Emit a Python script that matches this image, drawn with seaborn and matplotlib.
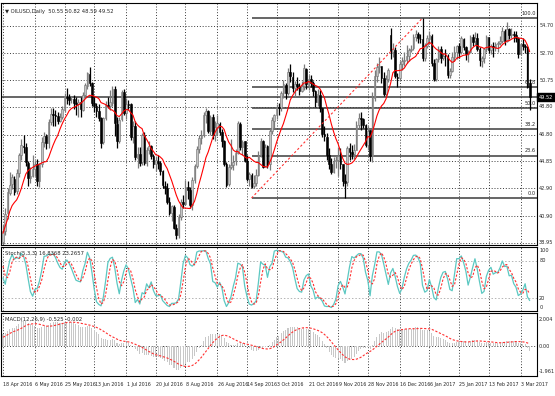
import matplotlib.pyplot as plt
import matplotlib.transforms as mtransforms
import numpy as np
import pandas as pd
import seaborn as sns


# Warm-up bars (1 Mar - 15 Apr 2016): only used so the indicators start "hot"
PRE_HIGH = [34.76, 34.90, 35.25, 36.15, 38.30, 37.90, 38.45, 38.70, 39.00, 38.40, 37.60, 38.60,
            40.55, 40.20, 40.00, 41.90, 41.50, 39.90, 39.80, 39.40, 39.00, 38.90, 38.40, 36.90,
            36.00, 37.90, 38.00, 39.85, 40.60, 42.40, 42.45, 41.90, 41.80]
PRE_LOW = [33.20, 33.90, 34.00, 34.40, 35.50, 36.20, 36.00, 36.70, 37.30, 36.80, 35.90, 36.00,
           37.85, 39.00, 39.00, 39.50, 39.50, 38.90, 38.95, 37.80, 37.90, 37.95, 36.70, 35.25,
           34.80, 35.80, 36.90, 37.25, 39.50, 40.40, 41.10, 40.80, 40.20]
PRE_CLOSE = [34.40, 34.66, 34.57, 35.92, 37.90, 36.50, 38.29, 37.84, 38.50, 37.18, 36.34, 38.46,
             40.20, 39.44, 39.91, 41.45, 39.79, 39.46, 39.39, 38.28, 38.32, 38.34, 36.79, 35.70,
             35.89, 37.75, 37.26, 39.72, 40.36, 42.17, 41.76, 41.50, 40.36]

# OILUSD daily bars, 18 Apr 2016 - 9 Mar 2017 (one week per line)
OPEN = [
    39.00, 39.80, 41.10, 42.60, 43.20,
    43.60, 42.70, 44.05, 45.30, 46.00,
    45.90, 44.75, 43.65, 43.80, 44.30,
    44.70, 43.45, 44.70, 46.25, 46.70,
    46.20, 47.70, 48.30, 48.20, 48.15,
    47.80, 48.10, 48.60, 49.55, 49.50,
    49.35, 49.40, 49.10, 49.00, 49.15,
    48.60, 49.70, 50.35, 51.20, 50.50,
    49.05, 48.90, 48.50, 48.00, 46.25,
    48.00, 48.95, 48.85, 49.10, 50.10,
    47.60, 46.35, 47.90, 49.85, 48.35,
    49.00, 49.00, 46.60, 47.40, 45.10,
    45.40, 44.80, 46.80, 44.75, 45.70,
    45.95, 45.25, 44.65, 44.90, 44.75,
    44.15, 43.10, 42.90, 41.90, 41.15,
    41.55, 40.05, 39.50, 40.85, 41.90,
    41.80, 43.00, 42.80, 41.70, 43.50,
    44.50, 45.75, 46.55, 46.80, 48.20,
    48.50, 47.05, 48.10, 46.75, 47.30,
    47.60, 46.95, 46.35, 44.70, 43.20,
    44.45, 44.60, 44.85, 45.50, 47.60,
    45.90, 46.30, 44.90, 43.60, 43.90,
    43.05, 43.30, 43.85, 45.35, 46.30,
    44.50, 45.95, 44.70, 47.05, 47.80,
    48.25, 48.80, 48.70, 49.80, 50.40,
    49.80, 51.35, 51.00, 50.15, 50.45,
    50.30, 49.95, 50.30, 51.55, 50.40,
    50.80, 50.50, 49.95, 49.15, 49.70,
    48.70, 46.85, 46.65, 45.35, 44.65,
    44.10, 44.90, 44.95, 45.25, 44.65,
    43.40, 43.35, 45.80, 45.55, 45.40,
    45.70, 47.50, 48.00, 47.95, 47.50,
    46.05, 47.10, 45.25, 49.45, 51.05,
    51.70, 51.80, 50.90, 49.75, 50.85,
    54.00, 52.80, 52.95, 51.00, 50.90,
    51.90, 52.15, 52.20, 52.50, 52.95,
    53.05, 53.90, 54.05, 53.75,
    53.75, 52.35, 53.25, 53.75,
    53.95, 51.95, 50.80, 52.25, 53.00,
    52.35, 52.50, 52.45, 51.10, 51.40,
    52.40, 52.75, 53.20, 52.75, 53.75,
    53.15, 52.60, 52.80, 53.85, 53.55,
    53.80, 53.00, 52.15, 52.35, 53.00,
    53.85, 52.90, 53.20, 53.10, 53.35,
    53.40, 53.60, 54.30, 53.60, 54.45,
    54.00, 54.05, 54.00, 53.80, 52.60,
    53.35, 53.20, 53.15, 50.55,
]
HIGH = [
    40.25, 41.45, 42.95, 44.10, 43.95,
    43.80, 44.30, 45.50, 46.50, 46.75,
    46.20, 44.90, 44.45, 45.30, 44.90,
    45.00, 44.75, 46.60, 47.00, 46.85,
    47.90, 48.70, 48.75, 48.55, 48.40,
    48.35, 48.90, 49.80, 50.20, 49.75,
    49.60, 49.70, 49.50, 49.40, 49.50,
    49.90, 50.55, 51.35, 51.70, 50.60,
    49.50, 49.05, 49.00, 48.05, 48.10,
    49.25, 49.55, 50.00, 50.30, 50.30,
    48.10, 48.10, 50.00, 50.10, 49.45,
    49.30, 49.10, 47.80, 47.80, 45.90,
    45.90, 46.90, 46.95, 45.90, 46.30,
    46.05, 45.40, 45.20, 45.30, 44.90,
    44.25, 43.40, 43.30, 42.30, 41.70,
    41.70, 40.30, 41.05, 42.10, 42.40,
    43.50, 43.40, 43.00, 43.70, 44.70,
    46.00, 46.75, 47.15, 48.40, 48.75,
    48.55, 48.20, 48.30, 47.80, 48.20,
    47.70, 47.20, 46.40, 44.80, 44.70,
    46.50, 45.35, 45.75, 47.75, 47.70,
    46.40, 46.35, 45.30, 44.10, 44.05,
    43.90, 44.30, 45.60, 46.55, 46.40,
    46.10, 46.05, 47.30, 48.05, 48.30,
    49.00, 49.05, 49.95, 50.75, 50.50,
    51.60, 51.90, 51.30, 50.70, 51.00,
    50.50, 50.70, 51.90, 51.60, 51.10,
    51.10, 50.70, 50.05, 50.10, 50.00,
    48.70, 47.40, 46.90, 45.85, 45.10,
    45.20, 45.25, 45.90, 45.80, 44.70,
    43.95, 46.00, 46.20, 46.05, 46.15,
    47.75, 48.35, 48.40, 48.00, 47.60,
    47.40, 47.15, 49.90, 51.50, 51.95,
    52.40, 51.80, 51.30, 51.10, 51.65,
    54.50, 53.40, 53.15, 51.25, 52.10,
    52.40, 52.80, 53.30, 53.10, 53.30,
    54.05, 54.35, 54.20, 54.10,
    55.24, 53.40, 54.00, 54.30,
    54.05, 52.30, 52.35, 53.25, 53.20,
    52.70, 53.00, 52.60, 51.60, 52.75,
    53.20, 53.30, 53.40, 53.95, 53.80,
    53.25, 52.95, 54.00, 54.10, 54.20,
    54.15, 53.15, 52.50, 53.10, 54.00,
    53.85, 53.35, 53.50, 53.50, 53.60,
    53.95, 54.60, 54.45, 54.95, 54.55,
    54.50, 54.30, 54.30, 53.90, 53.45,
    53.80, 53.35, 53.20, 50.82,
]
LOW = [
    38.60, 39.55, 40.70, 42.40, 42.85,
    42.45, 42.50, 43.75, 44.95, 45.50,
    44.50, 43.05, 43.30, 43.70, 43.80,
    43.05, 43.00, 44.45, 45.90, 45.75,
    45.80, 47.50, 47.40, 47.40, 47.60,
    47.70, 47.90, 48.40, 49.00, 48.95,
    49.10, 48.65, 48.25, 48.05, 48.10,
    48.50, 49.50, 50.10, 50.30, 48.90,
    48.40, 48.05, 47.80, 45.85, 46.10,
    47.85, 48.70, 48.60, 48.90, 46.70,
    45.85, 46.20, 47.80, 48.20, 47.90,
    48.60, 46.40, 46.20, 44.95, 44.40,
    44.50, 44.60, 44.60, 44.55, 45.40,
    45.00, 44.40, 44.15, 44.30, 43.90,
    42.90, 42.50, 41.80, 40.95, 40.55,
    39.95, 39.20, 39.30, 40.60, 41.50,
    41.70, 42.15, 41.50, 41.30, 43.30,
    44.40, 45.50, 46.10, 46.60, 47.65,
    46.90, 46.80, 46.50, 46.30, 46.80,
    46.80, 45.90, 44.50, 43.00, 43.10,
    44.30, 44.20, 44.60, 45.40, 45.70,
    45.30, 44.80, 43.40, 43.05, 42.90,
    42.95, 43.10, 43.80, 45.20, 44.40,
    44.45, 44.35, 44.20, 46.85, 47.30,
    47.95, 48.25, 48.50, 49.45, 49.40,
    49.70, 50.60, 49.90, 49.55, 50.00,
    49.65, 49.90, 50.00, 50.10, 50.00,
    50.25, 49.60, 48.80, 48.90, 48.40,
    46.65, 46.35, 44.95, 44.30, 43.95,
    44.00, 44.40, 43.80, 44.30, 43.05,
    42.20, 43.10, 44.95, 45.00, 45.00,
    45.65, 47.30, 47.15, 47.30, 45.90,
    45.70, 44.85, 44.80, 49.20, 50.60,
    51.25, 50.50, 49.60, 49.60, 50.60,
    52.30, 52.40, 50.90, 50.25, 50.70,
    51.50, 51.80, 52.00, 52.15, 52.75,
    52.95, 53.55, 53.40, 53.40,
    52.10, 52.15, 53.05, 53.35,
    51.80, 50.70, 50.65, 52.05, 52.00,
    52.20, 51.80, 50.90, 50.90, 51.35,
    52.10, 52.30, 52.35, 52.65, 52.90,
    52.20, 52.05, 52.70, 53.25, 53.30,
    52.85, 51.80, 51.70, 51.95, 52.75,
    52.70, 52.65, 52.40, 52.85, 52.80,
    53.30, 53.45, 53.30, 53.50, 53.70,
    53.80, 53.50, 53.50, 52.35, 52.55,
    52.95, 52.70, 50.20, 48.59,
]
CLOSE = [
    39.78, 41.08, 42.63, 43.18, 43.73,
    42.64, 44.04, 45.33, 46.03, 45.92,
    44.78, 43.65, 43.78, 44.32, 44.66,
    43.44, 44.66, 46.23, 46.70, 46.21,
    47.72, 48.31, 48.19, 48.16, 47.75,
    48.08, 48.62, 49.56, 49.48, 49.33,
    49.40, 49.10, 49.01, 49.17, 48.62,
    49.69, 50.36, 51.23, 50.56, 49.07,
    48.88, 48.49, 48.01, 46.21, 47.98,
    48.96, 48.85, 49.13, 50.11, 47.64,
    46.33, 47.85, 49.88, 48.33, 48.99,
    48.95, 46.60, 47.43, 45.14, 45.41,
    44.76, 46.80, 44.75, 45.68, 45.95,
    45.24, 44.65, 44.94, 44.75, 44.19,
    43.13, 42.92, 41.92, 41.14, 41.60,
    40.06, 39.51, 40.83, 41.93, 41.80,
    43.02, 42.77, 41.71, 43.49, 44.49,
    45.74, 46.58, 46.79, 48.22, 48.52,
    47.05, 48.10, 46.77, 47.33, 47.64,
    46.98, 46.35, 44.70, 43.16, 44.44,
    44.60, 44.83, 45.50, 47.62, 45.88,
    46.29, 44.90, 43.58, 43.91, 43.03,
    43.30, 43.85, 45.34, 46.32, 44.48,
    45.93, 44.67, 47.05, 47.83, 48.24,
    48.81, 48.69, 49.83, 50.44, 49.81,
    51.35, 51.01, 50.18, 50.44, 50.35,
    49.94, 50.29, 51.60, 50.43, 50.85,
    50.52, 49.96, 49.18, 49.72, 48.70,
    46.86, 46.67, 45.34, 44.66, 44.07,
    44.89, 44.98, 45.27, 44.66, 43.41,
    43.32, 45.81, 45.57, 45.42, 45.69,
    47.49, 48.03, 47.96, 47.50, 46.06,
    47.08, 45.23, 49.44, 51.06, 51.68,
    51.79, 50.93, 49.77, 50.84, 51.50,
    52.83, 52.98, 51.04, 50.90, 51.90,
    52.12, 52.23, 52.49, 52.95, 53.02,
    53.90, 54.06, 53.77, 53.72,
    52.33, 53.26, 53.76, 53.99,
    51.96, 50.82, 52.25, 53.01, 52.37,
    52.50, 52.48, 51.08, 51.37, 52.42,
    52.75, 53.18, 52.75, 53.78, 53.17,
    52.63, 52.81, 53.88, 53.54, 53.83,
    53.01, 52.17, 52.34, 53.00, 53.86,
    52.93, 53.20, 53.11, 53.36, 53.40,
    53.60, 54.33, 53.59, 54.45, 53.99,
    54.05, 54.01, 53.83, 52.61, 53.33,
    53.20, 53.14, 50.28, 49.52,
]
CLOSED_DAYS = ["2016-12-26", "2017-01-02"]

PRICE_TICKS = [54.70, 52.70, 50.75, 48.80, 46.80, 44.85, 42.90, 40.90, 38.95]
DATE_LABELS = ["18 Apr 2016", "6 May 2016", "25 May 2016", "13 Jun 2016", "1 Jul 2016",
               "20 Jul 2016", "8 Aug 2016", "26 Aug 2016", "14 Sep 2016", "3 Oct 2016",
               "21 Oct 2016", "9 Nov 2016", "28 Nov 2016", "16 Dec 2016", "6 Jan 2017",
               "25 Jan 2017", "13 Feb 2017", "3 Mar 2017"]

FIB_START, FIB_LOW = "2016-09-16", 42.20
FIB_END, FIB_HIGH = "2017-01-03", 55.24
FIB_LEVELS = [0.0, 23.6, 38.2, 50.0, 61.8, 100.0]

STOCH_TEXT = "Stoch(5,3,3) 16.8368 23.2657"
MACD_TEXT = "MACD(12,26,9) -0.525 -0.002"
MACD_AXIS = [2.004, 0.00, -1.961]
MACD_AXIS_TEXT = ["2.004", "0.00", "-1.961"]

# ---------------------------------------------------------------- indicators
dates = pd.bdate_range("2016-04-18", "2017-03-09").drop(pd.to_datetime(CLOSED_DAYS))
o, h, l, c = (np.array(a) for a in (OPEN, HIGH, LOW, CLOSE))
idx = np.arange(len(dates))
assert len(dates) == len(c)

n_pre = len(PRE_CLOSE)
close_all = pd.Series(PRE_CLOSE + CLOSE)
high_all = pd.Series(PRE_HIGH + HIGH)
low_all = pd.Series(PRE_LOW + LOW)

ma = close_all.rolling(10).mean().iloc[n_pre:].to_numpy()
macd_all = close_all.ewm(span=12, adjust=False).mean() - close_all.ewm(span=26, adjust=False).mean()
macd = macd_all.iloc[n_pre:].to_numpy()
macd_sig = macd_all.rolling(9).mean().iloc[n_pre:].to_numpy()
hh = high_all.rolling(5).max()
ll = low_all.rolling(5).min()
k_all = 100 * (close_all - ll).rolling(3).sum() / (hh - ll).rolling(3).sum()
stoch_k = k_all.iloc[n_pre:].to_numpy()
stoch_d = k_all.rolling(3).mean().iloc[n_pre:].to_numpy()

# ---------------------------------------------------------------- figure
sns.set_theme(style="white")
plt.rcParams["font.family"] = ["Liberation Sans Narrow", "DejaVu Sans"]

W, H = 555, 396
PX_PER_BAR, X0 = 2.28, 3
fig = plt.figure(figsize=(W / 100, H / 100), dpi=100)
fig.patch.set_facecolor("white")


def px_box(x0, y0, x1, y1):
    return [x0 / W, 1 - y1 / H, (x1 - x0) / W, (y1 - y0) / H]


ax = fig.add_axes(px_box(1, 3, 537, 245))
ax_st = fig.add_axes(px_box(1, 247, 537, 311))
ax_md = fig.add_axes(px_box(1, 313, 537, 376))
xlim = ((1 - X0) / PX_PER_BAR, (537 - X0) / PX_PER_BAR)

GRID = dict(color="#222222", lw=0.6, ls=(0, (1.2, 2.2)), zorder=0)
FS = 3.8       # panel texts
FS_AX = 3.6    # right-hand scale
FS_DATE = 3.4  # time scale
label_pos = [dates.get_loc(pd.to_datetime(s)) for s in DATE_LABELS]

for a in (ax, ax_st, ax_md):
    a.set_xlim(*xlim)
    a.set_xticks([])
    a.set_yticks([])
    for sp in a.spines.values():
        sp.set_color("black")
        sp.set_linewidth(0.8)
    for p in label_pos:
        a.axvline(p, **GRID)

# main panel
ax.set_ylim(38.80, 56.33)
for v in PRICE_TICKS:
    ax.axhline(v, **GRID)

up = c >= o
ax.vlines(idx[up], l[up], h[up], colors="#7a7a7a", lw=0.9, zorder=2)
ax.vlines(idx[~up], l[~up], h[~up], colors="black", lw=0.9, zorder=2)
body_lo = np.minimum(o, c)
body_h = np.maximum(np.abs(c - o), 0.03)
ax.bar(idx[up], body_h[up], bottom=body_lo[up], width=0.75, color="#c4c4c4",
       edgecolor="#6e6e6e", linewidth=0.4, zorder=3)
ax.bar(idx[~up], body_h[~up], bottom=body_lo[~up], width=0.75, color="black",
       edgecolor="black", linewidth=0.4, zorder=3)

sns.lineplot(x=idx, y=ma, ax=ax, color="red", linewidth=0.8, zorder=4)

fx0 = dates.get_loc(pd.to_datetime(FIB_START))
fx1 = dates.get_loc(pd.to_datetime(FIB_END))
sns.lineplot(x=[fx0, fx1], y=[FIB_LOW, FIB_HIGH], ax=ax, color="#ff3030",
             linewidth=0.8, linestyle=(0, (2, 2)), zorder=4)
for lev in FIB_LEVELS:
    price = FIB_LOW + (FIB_HIGH - FIB_LOW) * lev / 100
    ax.hlines(price, fx0, xlim[1], colors="#3c3c3c", lw=1.1, zorder=1)
    ax.annotate(f"{lev:.1f}", (xlim[1], price), xytext=(-1, 1.5), textcoords="offset points",
                ha="right", va="bottom", fontsize=FS_AX, color="#222222")

ax.axhline(c[-1], color="#3c3c3c", lw=1.1, zorder=1)

ytr = ax.get_yaxis_transform()
for v in PRICE_TICKS:
    ax.text(1.004, v, f"{v:.2f}", transform=ytr, fontsize=FS_AX, va="center", ha="left")
ax.text(1.003, c[-1], f"{c[-1]:.2f}", transform=ytr, fontsize=FS_AX, va="center", ha="left",
        color="white", bbox=dict(boxstyle="square,pad=0.35", fc="black", ec="black"))
ax.text(0.008, 0.965, f"\u25bc OILUSD,Daily  {o[-1]:.2f} {h[-1]:.2f} {l[-1]:.2f} {c[-1]:.2f}",
        transform=ax.transAxes, fontsize=FS, va="center", ha="left")

# stochastic panel
ax_st.set_ylim(0, 101.6)
for v in (80, 20):
    ax_st.axhline(v, color="#b4b4b4", lw=0.7, ls=(0, (1.5, 2)), zorder=0)
sns.lineplot(x=idx, y=stoch_k, ax=ax_st, color="#5cc8c2", linewidth=0.9)
sns.lineplot(x=idx, y=stoch_d, ax=ax_st, color="#ff3030", linewidth=0.8, linestyle=(0, (2, 1.5)))
ax_st.text(0.008, 0.9, STOCH_TEXT, transform=ax_st.transAxes, fontsize=FS, va="center")
ytr = ax_st.get_yaxis_transform()
ax_st.text(1.004, 100, "100", transform=ytr, fontsize=FS_AX, va="top", ha="left")
ax_st.text(1.004, 80, "80", transform=ytr, fontsize=FS_AX, va="center", ha="left")
ax_st.text(1.004, 20, "20", transform=ytr, fontsize=FS_AX, va="center", ha="left")
ax_st.text(1.004, 1, "0", transform=ytr, fontsize=FS_AX, va="bottom", ha="left")

# MACD panel
ax_md.set_ylim(-2.29, 2.52)
ax_md.axhline(0, **GRID)
ax_md.bar(idx, macd, width=0.45, color="#c8c8c8", linewidth=0, zorder=1)
sns.lineplot(x=idx, y=macd_sig, ax=ax_md, color="#ff3030", linewidth=0.8,
             linestyle=(0, (2, 1.5)), zorder=3)
ax_md.text(0.008, 0.9, MACD_TEXT, transform=ax_md.transAxes, fontsize=FS, va="center")
ytr = ax_md.get_yaxis_transform()
for v, s in zip(MACD_AXIS, MACD_AXIS_TEXT):
    ax_md.text(1.003, v, s, transform=ytr, fontsize=FS_AX, va="center", ha="left")

xtr = mtransforms.blended_transform_factory(ax_md.transData, ax_md.transAxes)
for p, s in zip(label_pos, DATE_LABELS):
    ax_md.text(p + 0.2, -0.14, s, transform=xtr, fontsize=FS_DATE, va="center", ha="left")

fig.savefig("out.png", dpi=100)
